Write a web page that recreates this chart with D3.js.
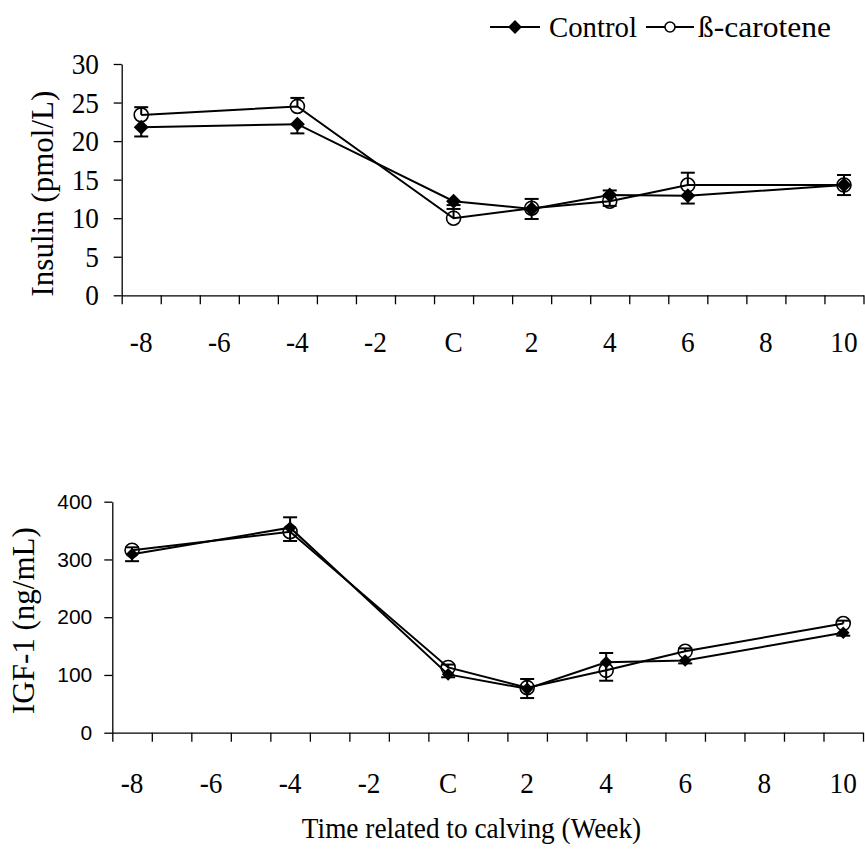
<!DOCTYPE html>
<html>
<head>
<meta charset="utf-8">
<script src="https://cdn.jsdelivr.net/npm/d3@7"></script>
<style>
  body { margin: 0; background: #ffffff; }
</style>
</head>
<body>
<div id="canvas"></div>
<script>
"use strict"

let svgWidth = 865
let svgHeight = 853

/* Data (weeks relative to calving, C = 0) */
let weeks = [-8, -4, 0, 2, 4, 6, 10]
let xLabelWeeks = [-8, -6, -4, -2, 0, 2, 4, 6, 8, 10]
let xTickLabels = ["-8", "-6", "-4", "-2", "C", "2", "4", "6", "8", "10"]
let seriesNames = ["Control", "ß-carotene"]

// insulin (pmol/L)
let insulinControl = [21.8, 22.2, 12.2, 11.2, 13.0, 12.9, 14.3]
let insulinControlSE = [1.2, 1.2, 0.5, 1.3, 1.4, 1.0, 1.3]
let insulinBeta = [23.4, 24.5, 10.0, 11.3, 12.2, 14.3, 14.3]
let insulinBetaSE = [1.0, 1.1, 1.2, 1.2, 1.4, 1.6, 1.3]
let insulinTicks = [0, 5, 10, 15, 20, 25, 30]

// IGF-1 (ng/mL)
let igfControl = [309, 355, 101, 76, 122, 125, 173]
let igfControlSE = [12, 23, 5, 16, 32, 5, 5]
let igfBeta = [316, 348, 113, 78, 108, 141, 189]
let igfBetaSE = [5, 25, 5, 15, 30, 5, 5]
let igfTicks = [0, 100, 200, 300, 400]

let serif = "'Liberation Serif', 'Times New Roman', serif"
let sans = "'Liberation Sans', Arial, sans-serif"
let serifSize = 30
let squeeze = 0.91 // the original Times type is a bit narrow

/* Create drawing canvas */
let svg = d3.select("#canvas")
    .append("svg")
    .attr("width", svgWidth)
    .attr("height", svgHeight)

svg.append("rect")
    .attr("width", svgWidth)
    .attr("height", svgHeight)
    .attr("fill", "#ffffff")

/* one panel = axes + two series with one-sided error bars */
function drawPanel(p) {
    let g = svg.append("g")

    let x = d3.scaleLinear()
        .domain([-8.5, 10.5])
        .range([p.left, p.right])

    let y = d3.scaleLinear()
        .domain([0, p.yMax])
        .range([p.bottom, p.top])

    // y axis
    let yAxis = g.append("g")
        .attr("transform", "translate(" + p.left + ",0)")
        .call(d3.axisLeft(y)
            .tickValues(p.yTicks)
            .tickSize(8)
            .tickSizeOuter(0)
            .tickPadding(p.yPad))
    yAxis.selectAll("text")
        .attr("font-family", p.yFont)
        .attr("font-size", p.yFontSize)
        .attr("transform", "scale(" + p.yScaleX + ",1)")
        .attr("fill", "#000")

    // x axis: ticks sit between the weekly categories
    g.append("g")
        .attr("transform", "translate(0," + p.bottom + ")")
        .call(d3.axisBottom(x)
            .tickValues(d3.range(-8.5, 11, 1))
            .tickSize(9)
            .tickSizeOuter(0)
            .tickFormat(""))

    g.selectAll(".domain, .tick line")
        .attr("stroke", "#000")
        .attr("stroke-width", 1.3)

    g.selectAll("text.xlab")
        .data(xLabelWeeks)
        .join("text")
        .attr("class", "xlab")
        .attr("transform", function(d) {
            return "translate(" + x(d) + "," + p.xLabelY + ") scale(" + squeeze + ",1)"
        })
        .attr("text-anchor", "middle")
        .attr("font-family", serif)
        .attr("font-size", serifSize)
        .text(function(d, i) { return xTickLabels[i] })

    // y title
    g.append("text")
        .attr("transform", "translate(" + p.titleX + "," + p.titleY + ") rotate(-90)")
        .attr("text-anchor", "start")
        .attr("font-family", serif)
        .attr("font-size", 31)
        .text(p.yTitle)

    let line = d3.line()
        .x(function(d) { return x(d.week) })
        .y(function(d) { return y(d.value) })

    let control = weeks.map(function(w, i) {
        return {week: w, value: p.control[i], se: p.controlSE[i]}
    })
    let beta = weeks.map(function(w, i) {
        return {week: w, value: p.beta[i], se: p.betaSE[i]}
    })

    g.append("path")
        .datum(beta)
        .attr("d", line)
        .attr("fill", "none")
        .attr("stroke", "#000")
        .attr("stroke-width", 2)

    g.append("path")
        .datum(control)
        .attr("d", line)
        .attr("fill", "none")
        .attr("stroke", "#000")
        .attr("stroke-width", 2)

    // error bars: beta upward, control downward
    let bars = [
        {data: beta, sign: 1},
        {data: control, sign: -1}
    ]
    bars.forEach(function(b) {
        let eb = g.append("g")
        eb.selectAll("line.stem")
            .data(b.data)
            .join("line")
            .attr("class", "stem")
            .attr("x1", function(d) { return x(d.week) })
            .attr("x2", function(d) { return x(d.week) })
            .attr("y1", function(d) { return y(d.value) })
            .attr("y2", function(d) { return y(d.value + b.sign * d.se) })
            .attr("stroke", "#000")
            .attr("stroke-width", 2)
        eb.selectAll("line.cap")
            .data(b.data)
            .join("line")
            .attr("class", "cap")
            .attr("x1", function(d) { return x(d.week) - 7 })
            .attr("x2", function(d) { return x(d.week) + 7 })
            .attr("y1", function(d) { return y(d.value + b.sign * d.se) })
            .attr("y2", function(d) { return y(d.value + b.sign * d.se) })
            .attr("stroke", "#000")
            .attr("stroke-width", 2)
    })

    g.selectAll("circle.beta")
        .data(beta)
        .join("circle")
        .attr("class", "beta")
        .attr("cx", function(d) { return x(d.week) })
        .attr("cy", function(d) { return y(d.value) })
        .attr("r", p.circleR)
        .attr("fill", "none")
        .attr("stroke", "#000")
        .attr("stroke-width", 1.6)

    g.selectAll("path.control")
        .data(control)
        .join("path")
        .attr("class", "control")
        .attr("d", d3.symbol(d3.symbolSquare, p.diamondSize))
        .attr("transform", function(d) {
            return "translate(" + x(d.week) + "," + y(d.value) + ") rotate(45)"
        })
        .attr("fill", "#000")
}

/* Insulin panel */
drawPanel({
    left: 121.7, right: 863.5, top: 64, bottom: 295.3,
    yMax: 30, yTicks: insulinTicks, yPad: 17,
    yFont: serif, yFontSize: serifSize, yScaleX: squeeze,
    xLabelY: 352,
    titleX: 53, titleY: 296.5, yTitle: "Insulin (pmol/L)",
    control: insulinControl, controlSE: insulinControlSE,
    beta: insulinBeta, betaSE: insulinBetaSE,
    circleR: 7, diamondSize: 112
})

/* IGF-1 panel */
drawPanel({
    left: 112.3, right: 863, top: 501.7, bottom: 732.7,
    yMax: 400, yTicks: igfTicks, yPad: 12,
    yFont: sans, yFontSize: 21, yScaleX: 1,
    xLabelY: 793,
    titleX: 33.5, titleY: 714, yTitle: "IGF-1 (ng/mL)",
    control: igfControl, controlSE: igfControlSE,
    beta: igfBeta, betaSE: igfBetaSE,
    circleR: 7, diamondSize: 80
})

/* x title */
svg.append("text")
    .attr("transform", "translate(471.5,838) scale(" + squeeze + ",1)")
    .attr("text-anchor", "middle")
    .attr("font-family", serif)
    .attr("font-size", serifSize)
    .text("Time related to calving (Week)")

/* Legend */
let legend = svg.append("g")
let legendItems = [
    {name: seriesNames[0], x1: 490, x2: 540, mark: "diamond", textX: 549, sx: 0.96},
    {name: seriesNames[1], x1: 646, x2: 694, mark: "circle", textX: 698, sx: 1.05}
]
legendItems.forEach(function(d) {
    let cx = (d.x1 + d.x2) / 2
    legend.append("line")
        .attr("x1", d.x1)
        .attr("x2", d.x2)
        .attr("y1", 27)
        .attr("y2", 27)
        .attr("stroke", "#000")
        .attr("stroke-width", 2)
    if (d.mark === "diamond") {
        legend.append("path")
            .attr("d", d3.symbol(d3.symbolSquare, 95))
            .attr("transform", "translate(" + cx + ",27) rotate(45)")
            .attr("fill", "#000")
    } else {
        legend.append("circle")
            .attr("cx", cx)
            .attr("cy", 27)
            .attr("r", 5)
            .attr("fill", "#fff")
            .attr("stroke", "#000")
            .attr("stroke-width", 1.6)
    }
    legend.append("text")
        .attr("transform", "translate(" + d.textX + ",37) scale(" + d.sx + ",1)")
        .attr("font-family", serif)
        .attr("font-size", serifSize)
        .text(d.name)
})
</script>
</body>
</html>
